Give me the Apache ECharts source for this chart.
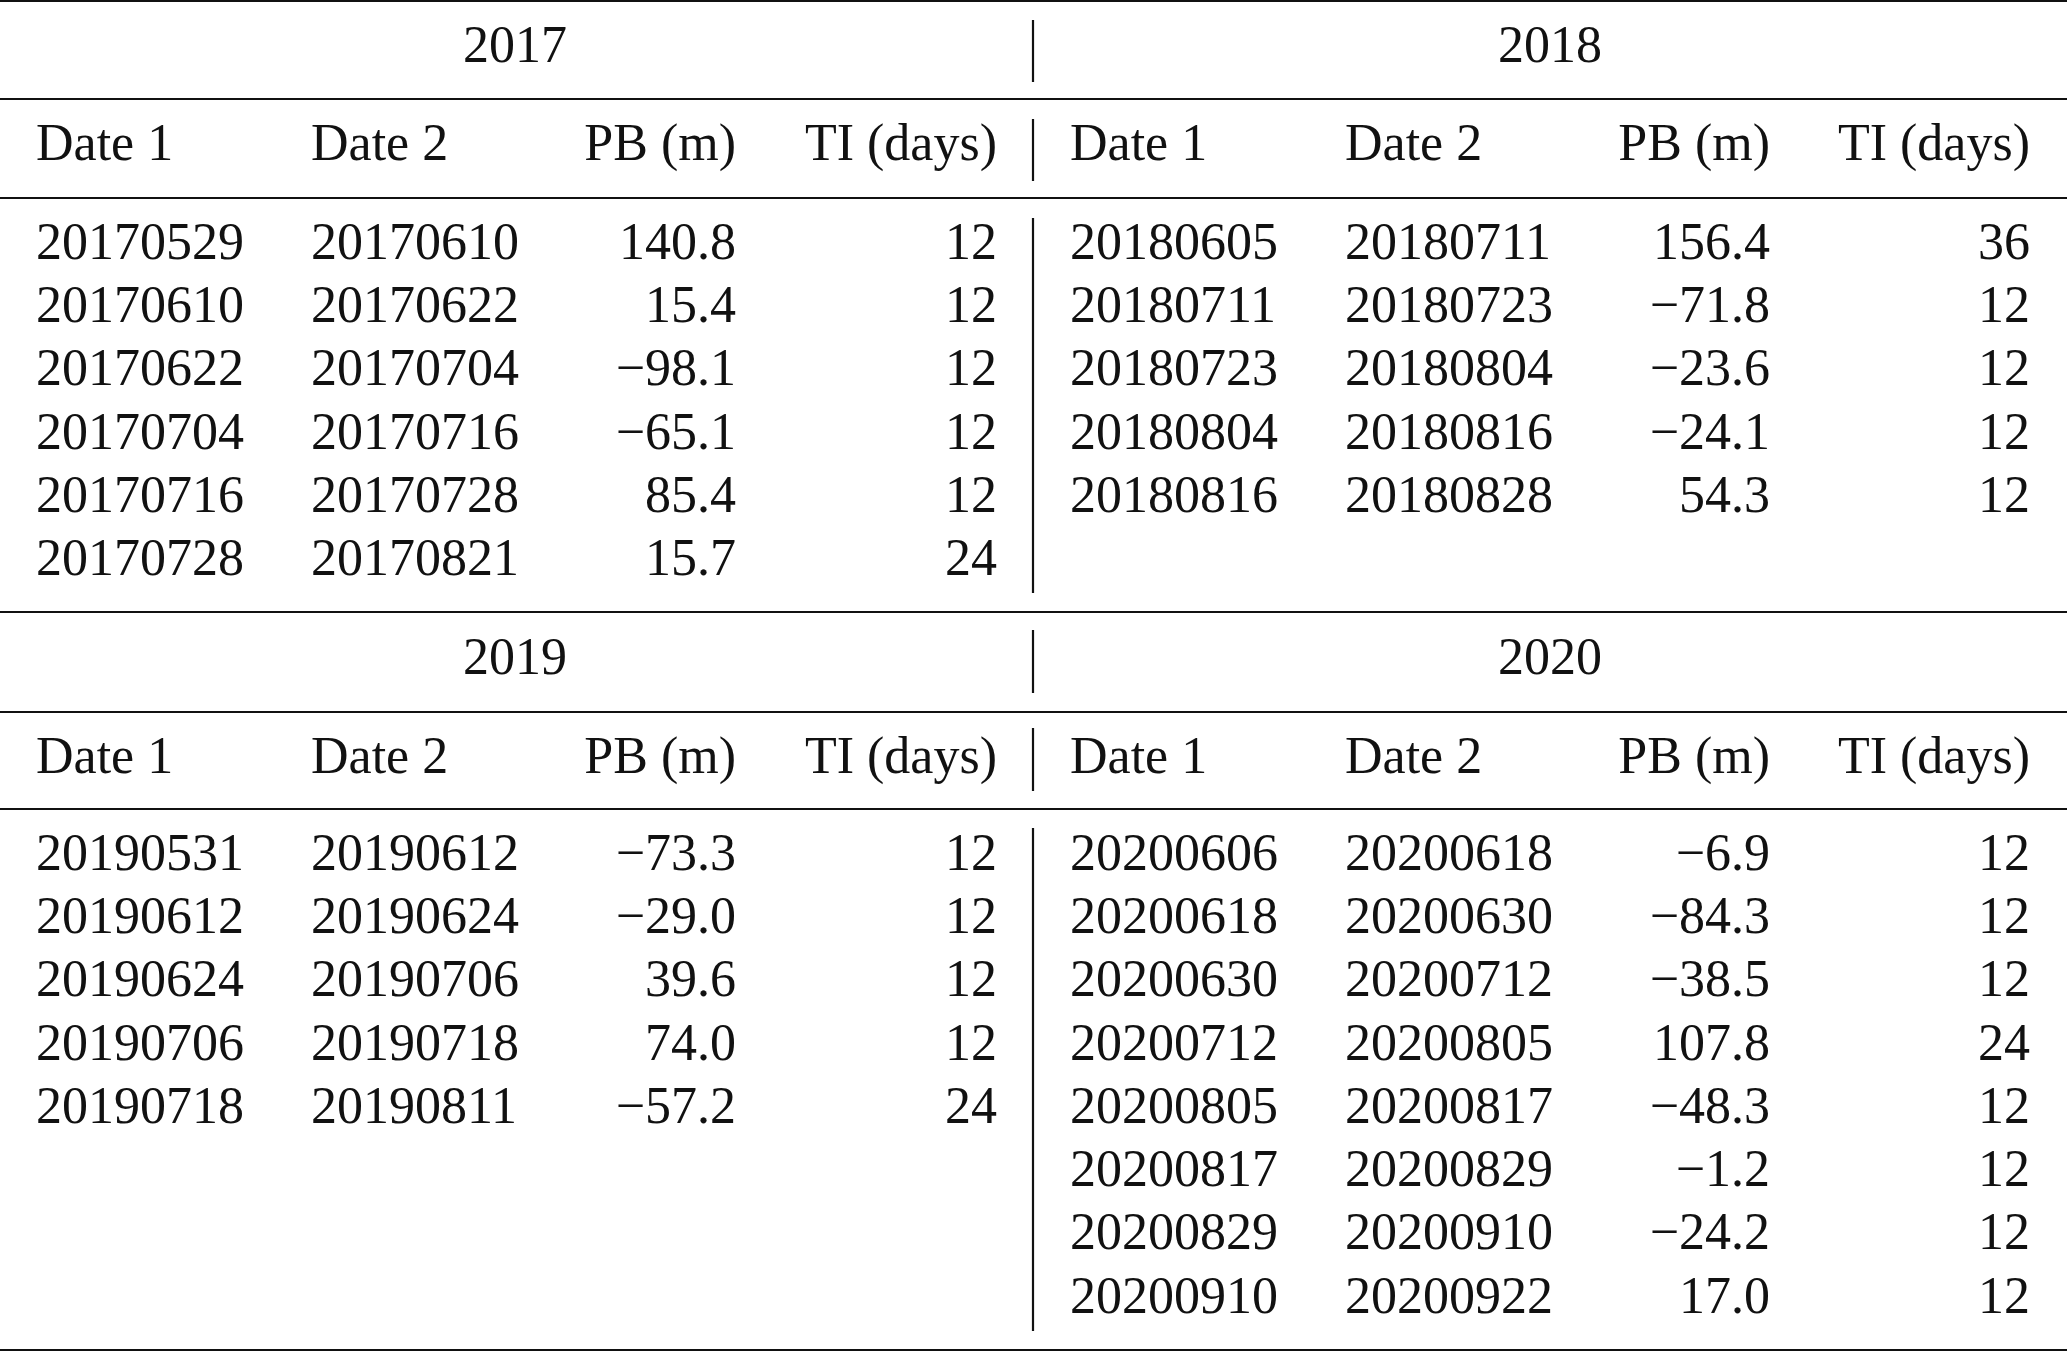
<!DOCTYPE html>
<html><head><meta charset="utf-8">
<script src="https://cdn.jsdelivr.net/npm/echarts@6/dist/echarts.min.js"></script>
<style>html,body{margin:0;padding:0;background:#fff}#c{width:2067px;height:1352px}</style>
</head><body><div id="c"></div>
<script>
const years = ["2017","2018","2019","2020"];
const headers = ["Date 1","Date 2","PB (m)","TI (days)"];
const rows2017 = [["20170529","20170610","140.8","12"],["20170610","20170622","15.4","12"],["20170622","20170704","−98.1","12"],["20170704","20170716","−65.1","12"],["20170716","20170728","85.4","12"],["20170728","20170821","15.7","24"]];
const rows2018 = [["20180605","20180711","156.4","36"],["20180711","20180723","−71.8","12"],["20180723","20180804","−23.6","12"],["20180804","20180816","−24.1","12"],["20180816","20180828","54.3","12"]];
const rows2019 = [["20190531","20190612","−73.3","12"],["20190612","20190624","−29.0","12"],["20190624","20190706","39.6","12"],["20190706","20190718","74.0","12"],["20190718","20190811","−57.2","24"]];
const rows2020 = [["20200606","20200618","−6.9","12"],["20200618","20200630","−84.3","12"],["20200630","20200712","−38.5","12"],["20200712","20200805","107.8","24"],["20200805","20200817","−48.3","12"],["20200817","20200829","−1.2","12"],["20200829","20200910","−24.2","12"],["20200910","20200922","17.0","12"]];

const chart = echarts.init(document.getElementById('c'));
const F = '"Liberation Serif", "DejaVu Serif", serif';
const g = [];
function txt(x,y,s,align){g.push({type:'text',x:x,y:y,style:{text:s,font:'52px '+F,fill:'#111',align:align,verticalAlign:'middle'}});}
function hl(y){g.push({type:'line',shape:{x1:0,y1:y,x2:2067,y2:y},style:{stroke:'#111',lineWidth:2.2}});}
function vl(y1,y2){g.push({type:'line',shape:{x1:1033,y1:y1,x2:1033,y2:y2},style:{stroke:'#111',lineWidth:2.2}});}
[1,99,198,612,712,809,1350].forEach(hl);
[[20,82],[119,181],[218,593],[630,693],[728,791],[828,1331]].forEach(a=>vl(a[0],a[1]));
const colsL=[[36,'left'],[311,'left'],[736,'right'],[997,'right']];
const colsR=[[1070,'left'],[1345,'left'],[1770,'right'],[2030,'right']];
function block(year,rows,cols,cx,ty,hy,ry){
  txt(cx,ty,year,'center');
  headers.forEach((h,i)=>txt(cols[i][0],hy,h,cols[i][1]));
  rows.forEach((r,j)=>r.forEach((v,i)=>txt(cols[i][0],ry+j*63.3,v,cols[i][1])));
}
block(years[0],rows2017,colsL,515,48,146,245);
block(years[1],rows2018,colsR,1550,48,146,245);
block(years[2],rows2019,colsL,515,660,759,856);
block(years[3],rows2020,colsR,1550,660,759,856);
chart.setOption({animation:false,graphic:g});
</script></body></html>
